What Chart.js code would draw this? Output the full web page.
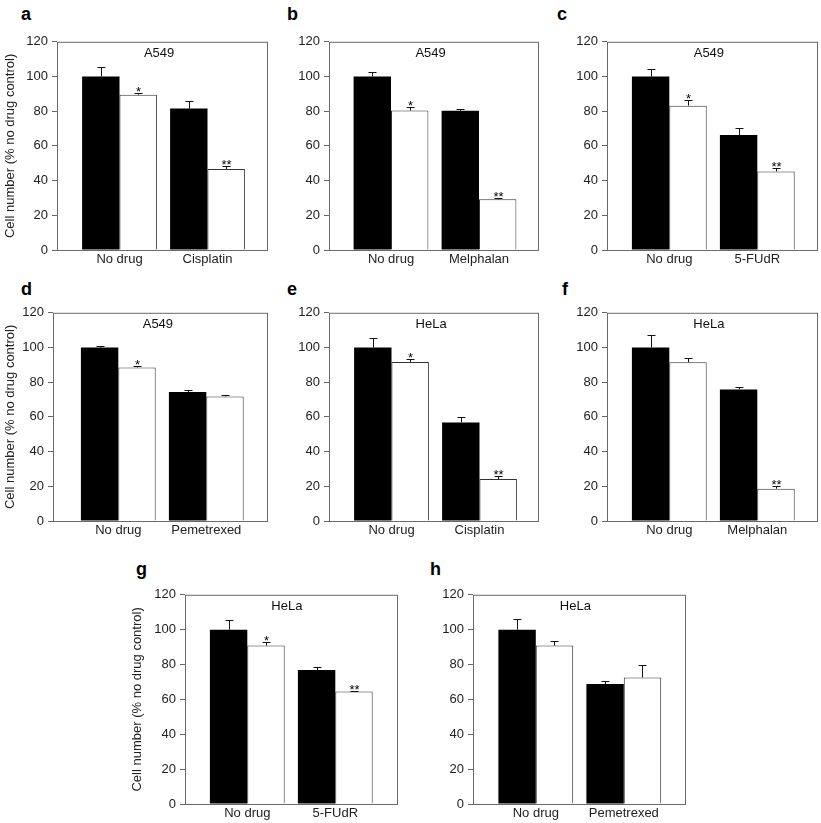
<!DOCTYPE html>
<html>
<head>
<title>Cell number panels</title>
<script src="https://cdn.jsdelivr.net/npm/chart.js@4.4.0/dist/chart.umd.min.js"></script>
<style>
  body { margin: 0; background: #fff; }
  #fig { position: relative; width: 821px; height: 823px; overflow: hidden; background: #fff;
         font-family: "Liberation Sans", Arial, sans-serif; }
  .letter { position: absolute; font-weight: bold; font-size: 18px; line-height: 18px; color: #000; }
  #fig canvas { position: absolute; }
</style>
</head>
<body>
<div id="fig"></div>

<script>
// values, one entry per panel a..h
var panelLetters = ['a', 'b', 'c', 'd', 'e', 'f', 'g', 'h'];
var cellLines = ['A549', 'A549', 'A549', 'A549', 'HeLa', 'HeLa', 'HeLa', 'HeLa'];
var firstGroup = 'No drug';
var drugs = ['Cisplatin', 'Melphalan', '5-FUdR', 'Pemetrexed', 'Cisplatin', 'Melphalan', '5-FUdR', 'Pemetrexed'];

var blackVals = [[100, 81.5], [100, 80.2], [100, 66.3], [100, 74.3], [100, 56.8], [100, 75.8], [100, 76.9], [100, 68.8]];
var blackErr  = [[5.2, 4.5], [2.5, 1.3], [4.4, 4.2], [0.6, 1.3], [5.5, 3.0], [7.0, 1.3], [5.3, 1.5], [6.4, 1.9]];
var whiteVals = [[89.5, 46.7], [80.4, 29.2], [83.2, 45.3], [88.5, 71.8], [91.7, 24.2], [91.5, 18.6], [90.9, 64.5], [90.9, 72.6]];
var whiteErr  = [[1.0, 1.5], [2.0, 0.5], [3.0, 1.9], [0.6, 1.0], [1.9, 1.7], [2.3, 1.5], [2.0, 0.4], [2.5, 7.0]];
var whiteStars = [['*', '**'], ['*', '**'], ['*', '**'], ['*', ''], ['*', '**'], ['', '**'], ['*', '**'], ['', '']];

var yMin = 0, yMax = 120, yStep = 20;
var yTitle = 'Cell number (% no drug control)';

// layout of each panel box on the page
var boxes = [
  {left: 57,  top: 40,  w: 211, h: 210, yw: 57, lo: 62.5},
  {left: 329, top: 40,  w: 210, h: 210, yw: 40, lo: 62},
  {left: 607, top: 40,  w: 211, h: 210, yw: 40, lo: 62.3},
  {left: 53,  top: 311, w: 215, h: 210, yw: 53, lo: 65.3},
  {left: 329, top: 311, w: 210, h: 210, yw: 40, lo: 62.5},
  {left: 607, top: 311, w: 211, h: 210, yw: 40, lo: 62.3},
  {left: 185, top: 593, w: 213, h: 211, yw: 58, lo: 62.3},
  {left: 473, top: 593, w: 213, h: 211, yw: 40, lo: 62.8}
];
var letterPos = [[21, 5], [287, 5], [557, 5], [21, 280], [287, 280], [562, 280], [136, 560], [430, 560]];
var pairSpacing = 88;
var fontFamily = '"Liberation Sans", Arial, sans-serif';

Chart.defaults.font.family = fontFamily;
Chart.defaults.font.size = 13;
Chart.defaults.color = '#222';

var framePlugin = {
  id: 'frame',
  afterDraw: function(chart) {
    var a = chart.chartArea, ctx = chart.ctx;
    ctx.save();
    ctx.strokeStyle = '#6a6a6a';
    ctx.lineWidth = 1;
    ctx.strokeRect(a.left + 0.5, a.top + 0.5, a.right - a.left - 1, a.bottom - a.top);
    ctx.restore();
  }
};

var errorBarPlugin = {
  id: 'errorBars',
  afterDatasetsDraw: function(chart) {
    var ctx = chart.ctx, y = chart.scales.y;
    chart.data.datasets.forEach(function(ds, di) {
      var meta = chart.getDatasetMeta(di);
      meta.data.forEach(function(bar, j) {
        var x = Math.round(bar.x) + 0.5;
        var top = Math.round(y.getPixelForValue(ds.data[j].y + ds.errors[j])) + 0.5;
        ctx.save();
        ctx.strokeStyle = '#111';
        ctx.lineWidth = 1;
        ctx.beginPath();
        ctx.moveTo(x, bar.y);
        ctx.lineTo(x, top);
        ctx.moveTo(x - 4, top);
        ctx.lineTo(x + 4, top);
        ctx.stroke();
        if (ds.stars[j]) {
          ctx.fillStyle = '#000';
          ctx.font = '13px ' + fontFamily;
          ctx.textAlign = 'center';
          ctx.textBaseline = 'alphabetic';
          ctx.fillText(ds.stars[j], x, top + 2);
        }
        ctx.restore();
      });
    });
  }
};

var cellTitlePlugin = {
  id: 'cellTitle',
  afterDraw: function(chart, args, opts) {
    var ctx = chart.ctx;
    var x = chart.scales.x.getPixelForValue(1.45);
    ctx.save();
    ctx.fillStyle = '#111';
    ctx.font = '13px ' + fontFamily;
    ctx.textAlign = 'center';
    ctx.textBaseline = 'alphabetic';
    ctx.fillText(opts.text, x, chart.chartArea.top + 15.5);
    ctx.restore();
  }
};

var fig = document.getElementById('fig');

function makePanel(p) {
  var b = boxes[p];
  var padTop = 10, padRight = 4, xh = 22;
  var cw = b.yw + b.w + padRight, ch = padTop + b.h + xh;

  var letter = document.createElement('div');
  letter.className = 'letter';
  letter.textContent = panelLetters[p];
  letter.style.left = letterPos[p][0] + 'px';
  letter.style.top = letterPos[p][1] + 'px';
  fig.appendChild(letter);

  var cv = document.createElement('canvas');
  cv.width = cw;
  cv.height = ch;
  cv.style.left = (b.left - b.yw) + 'px';
  cv.style.top = (b.top - padTop) + 'px';
  cv.style.width = cw + 'px';
  cv.style.height = ch + 'px';
  fig.appendChild(cv);

  var labels = [firstGroup, drugs[p]];
  var xMin = 1 - b.lo / pairSpacing;
  var xMax = xMin + b.w / pairSpacing;
  var showTitle = (p == 0 || p == 3 || p == 6);

  new Chart(cv, {
    type: 'bar',
    data: {
      datasets: [
        {
          label: 'Control',
          data: blackVals[p].map(function(v, i) { return {x: i + 1, y: v}; }),
          errors: blackErr[p],
          stars: ['', ''],
          backgroundColor: '#000',
          borderWidth: 0,
          categoryPercentage: 0.85,
          barPercentage: 1
        },
        {
          label: 'Treated',
          data: whiteVals[p].map(function(v, i) { return {x: i + 1, y: v}; }),
          errors: whiteErr[p],
          stars: whiteStars[p],
          backgroundColor: '#fff',
          borderColor: '#333',
          borderWidth: 1,
          categoryPercentage: 0.85,
          barPercentage: 1
        }
      ]
    },
    options: {
      responsive: false,
      animation: false,
      layout: {padding: {top: padTop, right: padRight, left: 0, bottom: 0}},
      plugins: {
        legend: {display: false},
        tooltip: {enabled: false},
        cellTitle: {text: cellLines[p]}
      },
      scales: {
        x: {
          type: 'linear',
          min: xMin,
          max: xMax,
          offset: false,
          grid: {display: false, drawTicks: false},
          border: {display: false},
          afterBuildTicks: function(s) { s.ticks = [{value: 1}, {value: 2}]; },
          afterFit: function(s) { s.height = xh; },
          ticks: {
            callback: function(v) { return labels[v - 1]; },
            padding: 2,
            maxRotation: 0,
            autoSkip: false,
            color: '#222'
          }
        },
        y: {
          min: yMin,
          max: yMax,
          ticks: {stepSize: yStep, padding: 4, color: '#222'},
          grid: {drawOnChartArea: false, drawTicks: true, tickLength: 5, color: '#666'},
          border: {display: false},
          afterFit: function(s) { s.width = b.yw; },
          title: {
            display: showTitle,
            text: yTitle,
            color: '#222',
            font: {size: 13},
            align: 'center',
            padding: {top: 3, bottom: 0}
          }
        }
      }
    },
    plugins: [framePlugin, errorBarPlugin, cellTitlePlugin]
  });
}

for (var p = 0; p < boxes.length; p++) {
  makePanel(p);
}
</script>
</body>
</html>
